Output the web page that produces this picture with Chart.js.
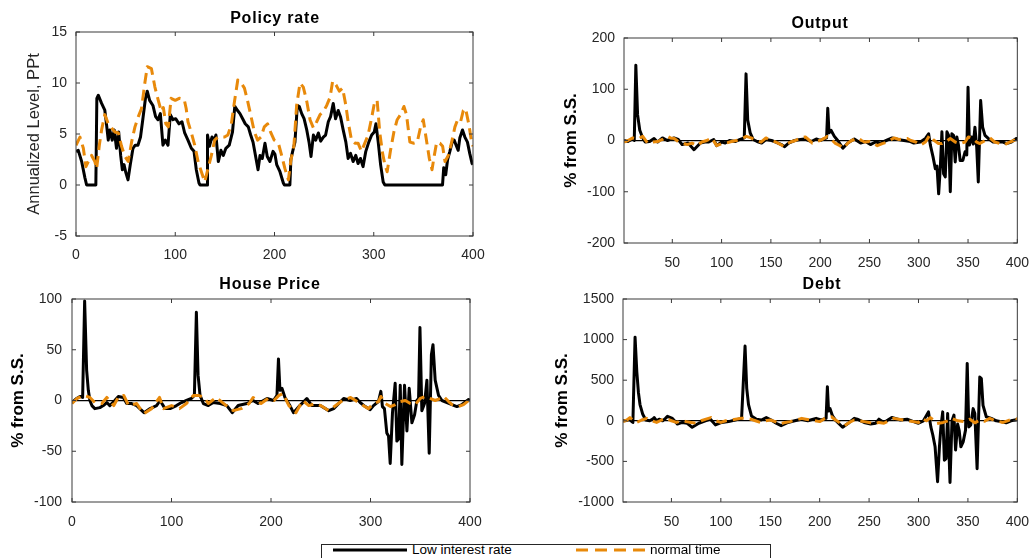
<!DOCTYPE html>
<html>
<head>
<meta charset="utf-8">
<title>Policy rate, output, house price, debt</title>
<script src="https://cdn.jsdelivr.net/npm/chart.js@4.4.1/dist/chart.umd.min.js"></script>
<style>
  body { margin: 0; background: #fff; font-family: "Liberation Sans", Arial, sans-serif; }
  #page { position: relative; width: 1033px; height: 558px; overflow: hidden; }
  #page canvas { position: absolute; }
  .ttl { position: absolute; font-weight: bold; font-size: 16px; letter-spacing: 0.8px; color: #000;
         transform: translate(-50%, -50%); white-space: nowrap; }
  #legend { position: absolute; left: 321px; top: 544px; width: 448px; height: 30px;
            border: 1px solid #262626; background: #fff; }
  #legend svg { position: absolute; }
  #legend span { position: absolute; font-size: 13.5px; color: #000; line-height: 14px; white-space: nowrap; }
</style>
</head>
<body>
<div id="page">
  <canvas id="cPolicy" width="500" height="270" style="left:0;top:0"></canvas>
  <canvas id="cOutput" width="513" height="280" style="left:520px;top:0"></canvas>
  <canvas id="cHouse" width="500" height="270" style="left:0;top:270px"></canvas>
  <canvas id="cDebt" width="513" height="270" style="left:520px;top:270px"></canvas>

  <div class="ttl" style="left:275px;top:18px">Policy rate</div>
  <div class="ttl" style="left:820px;top:23px">Output</div>
  <div class="ttl" style="left:270px;top:284px">House Price</div>
  <div class="ttl" style="left:822px;top:284px">Debt</div>

  <div id="legend">
    <svg style="left:11px;top:1px" width="74" height="8"><line x1="0" y1="4" x2="74" y2="4" stroke="#000" stroke-width="3"/></svg>
    <span style="left:90px;top:-2px">Low interest rate</span>
    <svg style="left:254px;top:1px" width="69" height="8"><line x1="0" y1="4" x2="69" y2="4" stroke="#E8890A" stroke-width="3" stroke-dasharray="12 7"/></svg>
    <span style="left:328px;top:-2px">normal time</span>
  </div>
</div>

<script>
// series are [period, value] pairs
var policyLow = [[0,3.3],[2.3,3.4],[5.7,2.3],[9,0.7],[10.7,0],[20,0],[21,8.5],[22.5,8.8],[25.8,8.0],[29,7.35],[30.8,5.9],[32.5,4.4],[34,5.4],[36.5,4.4],[38.5,5.4],[40.8,3.6],[43,5.2],[45,2.9],[46.7,1.5],[48.4,2.0],[50,1.3],[52.4,0.5],[54.7,2.0],[57.4,3.6],[59.7,3.9],[62.4,3.9],[65,4.7],[67.4,6.5],[70,8.5],[71.8,9.2],[74.2,8.3],[77.5,7.8],[80.2,6.7],[82.6,6.4],[85,7.0],[87.6,3.9],[90,4.4],[92.7,3.9],[95,6.9],[97.7,6.4],[100.4,6.5],[103.8,6.0],[106.8,6.2],[109.5,5.1],[112.8,4.4],[116.2,3.6],[118.9,3.3],[121.2,1.5],[123.9,0.2],[125,0],[132,0],[132.5,4.9],[134.4,3.8],[137,4.7],[139.5,4.4],[141,4.9],[143.4,2.3],[146,3.4],[148.4,2.9],[151,3.6],[154.4,3.9],[157.7,5.2],[160,7.7],[162.8,7.3],[165.2,7.0],[167.9,6.5],[170.5,6.0],[173.6,5.7],[176,4.9],[178.4,4.2],[181,2.8],[183.4,1.5],[185.4,2.9],[187.7,2.6],[190.4,4.1],[192.7,2.8],[195.4,2.3],[198.5,3.3],[200.5,3.0],[202.2,2.0],[205.5,1.3],[208.9,0.2],[210,0],[215.5,0],[216.5,2.5],[218.3,3.3],[220.6,4.2],[223,7.8],[225,7.7],[227.4,7.0],[229.8,6.5],[232.5,5.4],[234.8,4.2],[236.8,2.8],[239.2,4.9],[241.5,4.4],[244.2,5.1],[246.5,4.3],[249.2,4.7],[251.5,4.9],[254.2,6.2],[256.5,6.7],[259.2,8.0],[261.5,6.5],[264.2,7.3],[266.5,6.7],[269.2,5.4],[271.9,4.2],[274.2,2.6],[276.6,3.1],[279.2,2.3],[281.9,2.9],[284.2,2.1],[286.6,2.6],[289.2,1.8],[292,3.3],[295,4.2],[297.9,4.9],[300.5,5.2],[302.2,6.0],[304.5,4.2],[306.9,2.0],[309.5,0.3],[311.2,0],[369.3,0],[370.5,1.7],[372.5,1.0],[374.4,2.5],[376.7,3.3],[379,4.2],[381,4.4],[383.4,3.8],[385.1,3.4],[386.7,4.6],[389.4,5.4],[391.8,4.7],[394.4,4.2],[396.7,3.1],[399.1,2.1],[400,2.0]];
var policyNormal = [[0,3.9],[4,4.7],[7.4,3.6],[10,1.8],[12.4,2.3],[15.7,2.9],[19,2.3],[20.8,1.6],[23.5,3.9],[25.8,5.4],[29,6.9],[32.5,6.0],[35.8,5.6],[39.2,5.2],[42.6,5.1],[45.9,3.8],[49.3,2.8],[52.6,2.3],[56,4.2],[59.4,5.7],[62.8,6.7],[66,7.5],[69.5,10.1],[71.8,11.6],[76,11.4],[79.5,9.6],[82.9,8.3],[86,7.2],[88,7.6],[90.5,6.0],[93,5.7],[95.8,8.5],[100,8.3],[104,8.5],[109,8.4],[111,7.5],[112.8,6.2],[116,5.2],[119.6,3.9],[123,2.3],[126.3,1.3],[129.7,0.3],[133,1.6],[136.4,2.9],[139.7,4.4],[143,4.7],[146.4,4.7],[149.7,4.7],[153,4.9],[156.4,5.9],[159.7,8.2],[163,10.3],[166.4,10.0],[169.7,9.5],[173,8.2],[176.4,6.7],[179.7,5.2],[183,4.4],[186.4,4.7],[189.7,5.7],[193,6.0],[196.4,5.1],[199.7,4.4],[203.9,4.1],[207.2,2.9],[210.5,1.6],[214,0.5],[216.3,2.3],[219.6,3.9],[222.3,7.8],[225.7,10.0],[229,9.6],[232.5,8.2],[235.8,6.4],[239.2,5.6],[242.5,6.2],[245.9,6.9],[249.2,7.2],[252.6,7.8],[256,8.6],[258.6,10.2],[262,9.8],[265.3,9.2],[268.6,9.5],[271.9,7.8],[274.2,6.2],[277.6,4.4],[281,4.1],[284.2,4.1],[287.6,3.3],[291,4.1],[294.3,4.9],[297.7,6.5],[301,8.2],[303.4,8.3],[306,5.2],[308.9,3.1],[311.2,2.0],[313.5,1.3],[316.9,3.4],[320.3,5.2],[323.6,6.4],[327,6.9],[330.4,7.7],[333,6.9],[336.4,4.2],[340.5,4.1],[343.8,4.2],[347.2,5.7],[349.9,6.4],[352.6,4.7],[356,2.6],[358.7,1.5],[361,2.9],[363.4,4.2],[366.7,4.1],[369.4,3.8],[371.8,2.3],[375.1,2.9],[378.5,4.2],[381.8,5.7],[384.5,6.4],[387.5,6.2],[390.2,7.3],[392.5,7.5],[395.9,5.9],[398.6,4.2],[400,3.8]];

var outputLow = [[1,0],[5,-2],[9.7,3],[11.4,0],[13,147],[14.8,50],[17,20],[20,5],[22.5,-3],[27,-2],[31.5,4],[35,-3],[40,5],[45,0],[51.7,5],[56,2],[60,-8],[66,-5],[72,-18],[78.5,-5],[83,-3],[87,-3],[92,2],[95,-10],[100,-3],[103.7,-5],[108,0],[113.7,-2],[118.8,2],[123,5],[124.8,130],[126.5,40],[129,15],[132,2],[136,-2],[140.6,-5],[145,2],[150.7,0],[155,-3],[160.7,-8],[164,-12],[168,-5],[174,0],[180,2],[184,3],[191,-2],[196,3],[200,0],[204,3],[206.5,5],[207.7,63],[209,15],[211,20],[214.4,8],[217.8,0],[223,-15],[228,-5],[234.6,3],[241,-5],[246,-2],[251,-8],[256,-3],[261,-5],[267,0],[273,5],[279,2],[285,0],[291.7,-2],[295,-5],[301.7,-3],[306.8,4],[310,13],[311.8,-9],[314.5,-32],[316.8,-55],[318.5,-50],[320.2,-104],[321.9,-52],[323.5,17],[325.2,-65],[326.9,-71],[328.6,17],[330.3,10],[332,-100],[333.6,13],[335.3,10],[337,-42],[338.6,7],[340.3,-9],[342,-39],[344.7,-39],[347,-22],[348.7,-28],[350,104],[351.4,-9],[353.7,7],[355.4,-7],[357,26],[358.8,-13],[360.4,-81],[362.8,78],[364.8,26],[367.2,10],[370.5,4],[375.5,-3],[380.6,-3],[385.6,-3],[389,-6],[394,-3],[399,4],[400,3]];
var outputNormal = [[1,-3],[5,0],[10,5],[15,3],[20,8],[25,-5],[30,-3],[35,-2],[40,2],[45,8],[48,5],[52,4],[56,-2],[60,-5],[65,-8],[70,-5],[75,-10],[80,-3],[85,0],[90,5],[95,-10],[100,-6],[105,-5],[110,-2],[115,0],[120,3],[125,8],[130,5],[135,0],[140,-3],[145,5],[150,0],[155,-3],[160,-8],[163,-12],[167,-6],[170,-3],[175,0],[180,5],[185,7],[188,2],[192,-5],[196,-2],[200,0],[204,4],[207,8],[211,3],[215,-5],[220,-10],[224,-15],[228,-5],[232,0],[238,5],[242,0],[245,-3],[250,-2],[254,-6],[258,-10],[263,-6],[268,-3],[272,2],[275,5],[280,2],[285,3],[288,4],[292,0],[297,-3],[301.7,-9],[306.8,-3],[311,10],[315,1],[320,-6],[323.5,-6],[327,-3],[332,4],[337,-3],[342,-6],[347,-3],[350.4,7],[353.7,5],[358.8,-3],[362,-6],[367.2,0],[372.2,5],[377.2,-3],[382.3,-6],[387.3,-8],[392.3,-3],[397.4,1],[400,3]];

var houseLow = [[0,-2],[4.7,2],[8,4],[10.7,3],[12.7,98],[14.7,30],[16.4,10],[18,0],[20,-5],[23,-8],[28,-7],[31.5,-5],[35,-2],[38,-5],[43,0],[46.6,4],[51.6,3],[55,-3],[60,-3],[65,-5],[72.4,-12],[78.5,-8],[85,-5],[88.5,0],[93.5,-8],[98.6,-8],[105,-5],[110,-2],[115,0],[120,2],[123,5],[125,87],[126.7,25],[128.7,5],[132,-3],[137,-5],[142,-2],[149,-3],[155.6,-5],[161,-12],[167,-5],[175.7,-3],[182,0],[187,-3],[196,2],[202.5,0],[206,5],[207.5,41],[209,10],[211,12],[214,3],[219,-5],[222.6,-12],[229,-5],[236,2],[241,-5],[249.5,-5],[258,-10],[263,-8],[273,2],[279.6,0],[286,2],[289.6,-2],[294.7,-6],[299.7,-9],[303,-5],[308,-1],[310.4,9],[312,-6],[314,-8],[316.4,-32],[318.1,-35],[319.8,-62],[322.1,-12],[324.8,17],[326.5,-40],[328.2,-38],[329.9,15],[331.5,-63],[334.2,15],[336.6,-30],[338.9,12],[341.6,-22],[344.3,-14],[346.6,0],[348.3,2],[349.7,72],[351.6,-10],[354.3,-3],[356.7,20],[359,-52],[361.2,45],[362.8,55],[365,20],[368.4,5],[371.8,0],[376.8,-2],[381.8,-4],[386.8,-6],[391.9,-4],[398.6,1],[400,0]];
var houseNormal = [[0,-3],[5,2],[12,5],[18,3],[23,-2],[30,-3],[35,3],[42,-5],[47,4],[52,5],[57,-5],[65,-3],[72,-13],[80,-8],[88,3],[92,-8],[100,-5],[108,-8],[115,-3],[122,5],[127,5],[133,3],[137,-3],[145,3],[155,-5],[162,-10],[170,-8],[178,-3],[182,3],[190,-3],[197,2],[203,0],[208,5],[212,7],[218,-5],[225,-12],[232,0],[238,-5],[245,-3],[250,-5],[258,-10],[265,-5],[272,0],[280,3],[285,0],[291,-4],[298,-8],[303,-3],[308,-1],[310.4,4],[315,-3],[320,-6],[325,-4],[330,-1],[335,0],[340,-3],[345,-4],[350,2],[355,4],[360,2],[365,0],[370,2],[373.5,4],[378.5,-1],[382,-4],[388.5,-6],[393.5,-4],[398.6,0],[400,1]];

var debtLow = [[1,0],[5,5],[7.5,15],[11,-20],[13.2,1030],[15,600],[16.6,350],[18.2,200],[21,80],[24,10],[28,0],[31,20],[32.6,40],[35,0],[37.6,20],[41,0],[44,30],[46,55],[51,30],[56,-40],[61,-20],[66,-30],[71,-80],[77.7,-30],[84.4,0],[89.5,20],[94.5,-50],[101,-20],[107.8,-10],[114.5,10],[121,30],[124.5,920],[126.2,400],[128,200],[131,60],[136,20],[141,10],[146,40],[151,10],[156,-30],[161,-60],[168,-20],[174.7,0],[181.4,20],[188,0],[196.4,30],[201.5,10],[206.5,30],[207.8,420],[209,120],[210.5,150],[213,60],[216.5,0],[223.2,-80],[230,-20],[235,30],[238,20],[245,-20],[251.6,-40],[256.6,-30],[260,20],[265,-20],[273,40],[281.7,10],[288.4,20],[295,-10],[300,-30],[305,0],[310.1,110],[312.5,-75],[314.5,-175],[316.8,-320],[319.3,-750],[321.2,-320],[322.8,-60],[324.5,110],[326.2,-485],[327.9,-465],[329.5,90],[331.9,-760],[333.9,0],[335.9,70],[337.5,-360],[339.6,-40],[341.2,-120],[342.9,-320],[345.2,-260],[347.6,-115],[349.3,707],[350.9,-75],[352.9,-50],[355.3,150],[357,90],[359.3,-590],[362,540],[363.6,520],[365.3,190],[368.6,50],[373.7,30],[378.7,0],[383.7,-10],[388.7,-25],[393.7,0],[400,15]];
var debtNormal = [[1,-10],[5,10],[8,40],[12,0],[15,-20],[20,10],[25,30],[30,0],[35,-20],[40,10],[45,30],[50,0],[55,-20],[60,0],[65,-10],[70,-20],[75,-30],[80,0],[85,20],[90,40],[95,0],[100,-20],[105,0],[110,10],[115,20],[120,30],[125,30],[130,20],[135,0],[140,-20],[145,0],[150,10],[155,-10],[160,-40],[165,-20],[170,-10],[176,10],[182,30],[186,20],[190,10],[195,0],[200,-10],[204,20],[207,40],[212,50],[216,10],[220,-20],[225,-60],[230,-20],[235,10],[240,0],[245,-10],[250,-20],[255,-40],[260,-20],[265,-30],[270,0],[275,30],[280,20],[285,10],[290,0],[295,-10],[300,-20],[303.4,30],[308,0],[312,40],[315,10],[318.5,-33],[325,-20],[330,0],[333.5,30],[340,0],[347,-10],[352,20],[357,-25],[362,10],[367,-5],[372,30],[378,0],[385.4,-20],[390,0],[397,30],[400,20]];

var xTicks0 = [0, 100, 200, 300, 400];
var xTicks50 = [50, 100, 150, 200, 250, 300, 350, 400];
var policyTicks = [-5, 0, 5, 10, 15];
var outputTicks = [-200, -100, 0, 100, 200];
var houseTicks = [-100, -50, 0, 50, 100];
var debtTicks = [-1000, -500, 0, 500, 1000, 1500];

var FONT = '"Liberation Sans", Arial, sans-serif';
var ORANGE = '#E8890A';

// MATLAB style box with inward ticks on all four sides
var framePlugin = {
    id: 'frame',
    afterDraw: function(chart) {
        var ctx = chart.ctx, a = chart.chartArea;
        var xs = chart.scales.x, ys = chart.scales.y;
        ctx.save();
        ctx.strokeStyle = '#3a3a3a';
        ctx.lineWidth = 1;
        ctx.strokeRect(a.left, a.top, a.right - a.left, a.bottom - a.top);
        ctx.beginPath();
        xs.ticks.forEach(function(t) {
            var p = xs.getPixelForValue(t.value);
            ctx.moveTo(p, a.bottom); ctx.lineTo(p, a.bottom - 4);
            ctx.moveTo(p, a.top); ctx.lineTo(p, a.top + 4);
        });
        ys.ticks.forEach(function(t) {
            var p = ys.getPixelForValue(t.value);
            ctx.moveTo(a.left, p); ctx.lineTo(a.left + 4, p);
            ctx.moveTo(a.right, p); ctx.lineTo(a.right - 4, p);
        });
        ctx.stroke();
        ctx.restore();
    }
};

function toXY(pairs) {
    return pairs.map(function(p) { return {x: p[0], y: p[1]}; });
}

function plainLabel(v) { return String(v); }

function makePanel(id, cfg) {
    var el = document.getElementById(id);
    return new Chart(el.getContext('2d'), {
        type: 'line',
        data: {
            datasets: [
                { label: 'Low interest rate', data: toXY(cfg.low), borderColor: '#000', borderWidth: 3, order: 2 },
                { label: 'normal time', data: toXY(cfg.normal), borderColor: ORANGE, borderWidth: 3, borderDash: [11, 6], order: 1 }
            ]
        },
        plugins: [framePlugin],
        options: {
            responsive: false,
            animation: false,
            events: [],
            layout: { padding: { top: cfg.padTop, right: cfg.padRight, left: 0, bottom: 0 } },
            elements: { point: { radius: 0 }, line: { tension: 0, borderCapStyle: 'butt', borderJoinStyle: 'round' } },
            plugins: { legend: { display: false }, tooltip: { enabled: false }, title: { display: false } },
            scales: {
                x: {
                    type: 'linear',
                    min: cfg.xMin, max: 400,
                    afterBuildTicks: function(s) { s.ticks = cfg.xTicks.map(function(v) { return {value: v}; }); },
                    afterFit: function(s) { s.height = cfg.xHeight; },
                    grid: { display: false },
                    border: { display: false },
                    ticks: { padding: cfg.xPad, maxRotation: 0, autoSkip: false, callback: plainLabel,
                             color: '#262626', font: { size: 14, family: FONT } }
                },
                y: {
                    type: 'linear',
                    min: cfg.yTicks[0], max: cfg.yTicks[cfg.yTicks.length - 1],
                    afterBuildTicks: function(s) { s.ticks = cfg.yTicks.map(function(v) { return {value: v}; }); },
                    afterFit: function(s) { s.width = cfg.yWidth; },
                    grid: {
                        display: cfg.zeroLine,
                        drawTicks: false,
                        lineWidth: 1.3,
                        color: function(c) { return (c.tick && c.tick.value === 0) ? '#000' : 'rgba(0,0,0,0)'; }
                    },
                    border: { display: false },
                    ticks: { padding: cfg.yPad, autoSkip: false, callback: plainLabel,
                             color: '#262626', font: { size: 14, family: FONT } },
                    title: {
                        display: true, text: cfg.yLabel, color: cfg.yBold ? '#000' : '#262626',
                        font: { size: cfg.yBold ? 17 : 16.5, weight: cfg.yBold ? 'bold' : 'normal', family: FONT },
                        padding: { top: cfg.yTitleOff, bottom: 0 }
                    }
                }
            }
        }
    });
}

makePanel('cPolicy', {
    low: policyLow, normal: policyNormal, xTicks: xTicks0, xMin: 0, yTicks: policyTicks,
    padTop: 32, padRight: 27, yWidth: 76, xHeight: 34, xPad: 3, yPad: 9,
    yLabel: 'Annualized Level, PPt', yBold: false, yTitleOff: 25, zeroLine: false
});
makePanel('cOutput', {
    low: outputLow, normal: outputNormal, xTicks: xTicks50, xMin: 1, yTicks: outputTicks,
    padTop: 38, padRight: 12, yWidth: 104, xHeight: 37, xPad: 4, yPad: 9,
    yLabel: '% from S.S.', yBold: true, yTitleOff: 41, zeroLine: true
});
makePanel('cHouse', {
    low: houseLow, normal: houseNormal, xTicks: xTicks0, xMin: 0, yTicks: houseTicks,
    padTop: 29, padRight: 30, yWidth: 72, xHeight: 38, xPad: 4, yPad: 10,
    yLabel: '% from S.S.', yBold: true, yTitleOff: 8, zeroLine: true
});
makePanel('cDebt', {
    low: debtLow, normal: debtNormal, xTicks: xTicks50, xMin: 1, yTicks: debtTicks,
    padTop: 29, padRight: 12, yWidth: 103, xHeight: 38, xPad: 4, yPad: 9,
    yLabel: '% from S.S.', yBold: true, yTitleOff: 32, zeroLine: true
});
</script>
</body>
</html>
